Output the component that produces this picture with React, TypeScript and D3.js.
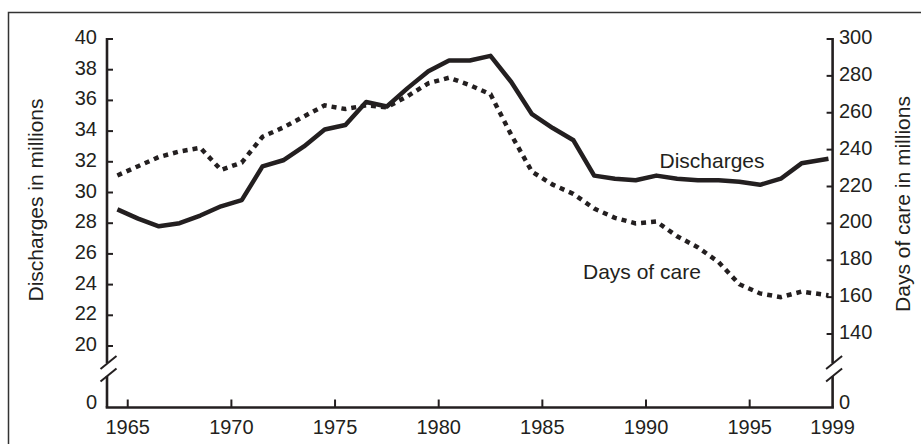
import React, { useRef, useEffect } from 'react';
import * as d3 from 'd3';

// data years (points are plotted mid-year)
const years = [
  1965, 1966, 1967, 1968, 1969, 1970, 1971, 1972, 1973, 1974,
  1975, 1976, 1977, 1978, 1979, 1980, 1981, 1982, 1983, 1984,
  1985, 1986, 1987, 1988, 1989, 1990, 1991, 1992, 1993, 1994,
  1995, 1996, 1997, 1998, 1999,
];

// discharges in millions (left axis)
const discharges = [
  28.9, 28.3, 27.8, 28.0, 28.5, 29.1, 29.5, 31.7, 32.1, 33.0,
  34.1, 34.4, 35.9, 35.6, 36.8, 37.9, 38.6, 38.6, 38.9, 37.2,
  35.1, 34.2, 33.4, 31.1, 30.9, 30.8, 31.1, 30.9, 30.8, 30.8,
  30.7, 30.5, 30.9, 31.9, 32.2,
];

// days of care in millions (right axis)
const daysOfCare = [
  226, 231, 236, 239, 241, 229, 233, 247, 252, 258,
  264, 262, 264, 263, 269, 276, 279, 275, 270, 248,
  228, 221, 216, 208, 203, 200, 201, 193, 187, 179,
  167, 162, 160, 163, 161,
];

const xTicks = [1965, 1970, 1975, 1980, 1985, 1990, 1995, 1999];
const leftTicks = [20, 22, 24, 26, 28, 30, 32, 34, 36, 38, 40];
const rightTicks = [140, 160, 180, 200, 220, 240, 260, 280, 300];

const FONT = 'Liberation Sans, Arial, Helvetica, sans-serif';
const INK = '#231f20';

function App() {
  const chartRef = useRef(null);

  useEffect(() => {
    drawChart();
  }, []);

  function drawChart() {
    const root = d3.select(chartRef.current);
    root.selectAll('*').remove();

    const svg = root
      .append('svg')
      .attr('width', 921)
      .attr('height', 444)
      .style('display', 'block')
      .style('font-family', FONT);

    svg.append('rect').attr('width', 921).attr('height', 444).attr('fill', '#fff');

    // frame (right and bottom edges fall outside the picture)
    svg.append('rect')
      .attr('x', 8.5).attr('y', 12.5)
      .attr('width', 930).attr('height', 450)
      .attr('fill', 'none')
      .attr('stroke', '#333')
      .attr('stroke-width', 1.5);

    const left = 107;
    const right = 832.6;
    const base = 407.5;
    const breakTop = 363;
    const breakBottom = 376;

    const x = d3.scaleLinear().domain([1964, 1999]).range([left, right]);
    const yL = d3.scaleLinear().domain([20, 40]).range([346, 39]);
    const yR = d3.scaleLinear().domain([140, 300]).range([334, 39]);

    const xPos = (yr: number) => x(yr === 1999 ? 1998.8 : yr - 0.5);

    const axisStroke = 2.6;

    // x axis
    svg.append('line')
      .attr('x1', left).attr('x2', right)
      .attr('y1', base).attr('y2', base)
      .attr('stroke', INK).attr('stroke-width', axisStroke)
      .attr('stroke-linecap', 'square');

    svg.selectAll('.xtick')
      .data(xTicks.filter(t => t < 1999))
      .join('line')
      .attr('x1', d => x(d)).attr('x2', d => x(d))
      .attr('y1', base).attr('y2', base - 8)
      .attr('stroke', INK).attr('stroke-width', 2);

    svg.selectAll('.xlab')
      .data(xTicks)
      .join('text')
      .attr('x', d => x(d))
      .attr('y', 434)
      .attr('text-anchor', 'middle')
      .attr('font-size', 20)
      .attr('fill', INK)
      .text(d => d);

    // vertical axes with break marks
    function vAxis(ax: number, top: number, dir: number) {
      svg.append('line')
        .attr('x1', ax).attr('x2', ax)
        .attr('y1', top).attr('y2', breakTop)
        .attr('stroke', INK).attr('stroke-width', axisStroke);
      svg.append('line')
        .attr('x1', ax).attr('x2', ax)
        .attr('y1', breakBottom).attr('y2', base)
        .attr('stroke', INK).attr('stroke-width', axisStroke);
      [0, 12.5].forEach(off => {
        svg.append('line')
          .attr('x1', ax - 6.5).attr('y1', 369 + off)
          .attr('x2', ax + 9.5).attr('y2', 356 + off)
          .attr('stroke', INK).attr('stroke-width', 2);
      });
    }
    vAxis(left, 38, -1);
    vAxis(right, 38, 1);

    // left ticks
    svg.selectAll('.ltick')
      .data(leftTicks)
      .join('line')
      .attr('x1', left).attr('x2', left + 6)
      .attr('y1', d => yL(d)).attr('y2', d => yL(d))
      .attr('stroke', INK).attr('stroke-width', 2);

    svg.selectAll('.llab')
      .data([...leftTicks, 0])
      .join('text')
      .attr('x', 97)
      .attr('y', d => (d === 0 ? 402 : yL(d) - 2))
      .attr('dy', '0.35em')
      .attr('text-anchor', 'end')
      .attr('font-size', 20)
      .attr('fill', INK)
      .text(d => d);

    // right ticks
    svg.selectAll('.rtick')
      .data(rightTicks)
      .join('line')
      .attr('x1', right).attr('x2', right - 6)
      .attr('y1', d => yR(d)).attr('y2', d => yR(d))
      .attr('stroke', INK).attr('stroke-width', 2);

    svg.selectAll('.rlab')
      .data([...rightTicks, 0])
      .join('text')
      .attr('x', 839)
      .attr('y', d => (d === 0 ? 402 : yR(d) - 2))
      .attr('dy', '0.35em')
      .attr('text-anchor', 'start')
      .attr('font-size', 20)
      .attr('fill', INK)
      .text(d => d);

    // axis titles
    svg.append('text')
      .attr('transform', 'translate(36,200) rotate(-90)')
      .attr('dy', '0.35em')
      .attr('text-anchor', 'middle')
      .attr('font-size', 21)
      .attr('fill', INK)
      .text('Discharges in millions');

    svg.append('text')
      .attr('transform', 'translate(903,204) rotate(-90)')
      .attr('dy', '0.35em')
      .attr('text-anchor', 'middle')
      .attr('font-size', 21)
      .attr('fill', INK)
      .text('Days of care in millions');

    // lines
    const dischargeLine = d3.line<number>()
      .x((d, i) => xPos(years[i]))
      .y(d => yL(d));

    const daysLine = d3.line<number>()
      .x((d, i) => xPos(years[i]))
      .y(d => yR(d));

    svg.append('path')
      .datum(daysOfCare)
      .attr('fill', 'none')
      .attr('stroke', INK)
      .attr('stroke-width', 4.5)
      .attr('stroke-dasharray', '5,5')
      .attr('d', daysLine);

    svg.append('path')
      .datum(discharges)
      .attr('fill', 'none')
      .attr('stroke', INK)
      .attr('stroke-width', 4.5)
      .attr('stroke-linejoin', 'round')
      .attr('d', dischargeLine);

    // series labels
    svg.append('text')
      .attr('x', 712).attr('y', 168)
      .attr('text-anchor', 'middle')
      .attr('font-size', 21)
      .attr('fill', INK)
      .text('Discharges');

    svg.append('text')
      .attr('x', 583).attr('y', 279)
      .attr('font-size', 21)
      .attr('fill', INK)
      .text('Days of care');
  }

  return (
    <div ref={chartRef} style={{ position: 'absolute', left: 0, top: 0 }} />
  );
}

export default App;
